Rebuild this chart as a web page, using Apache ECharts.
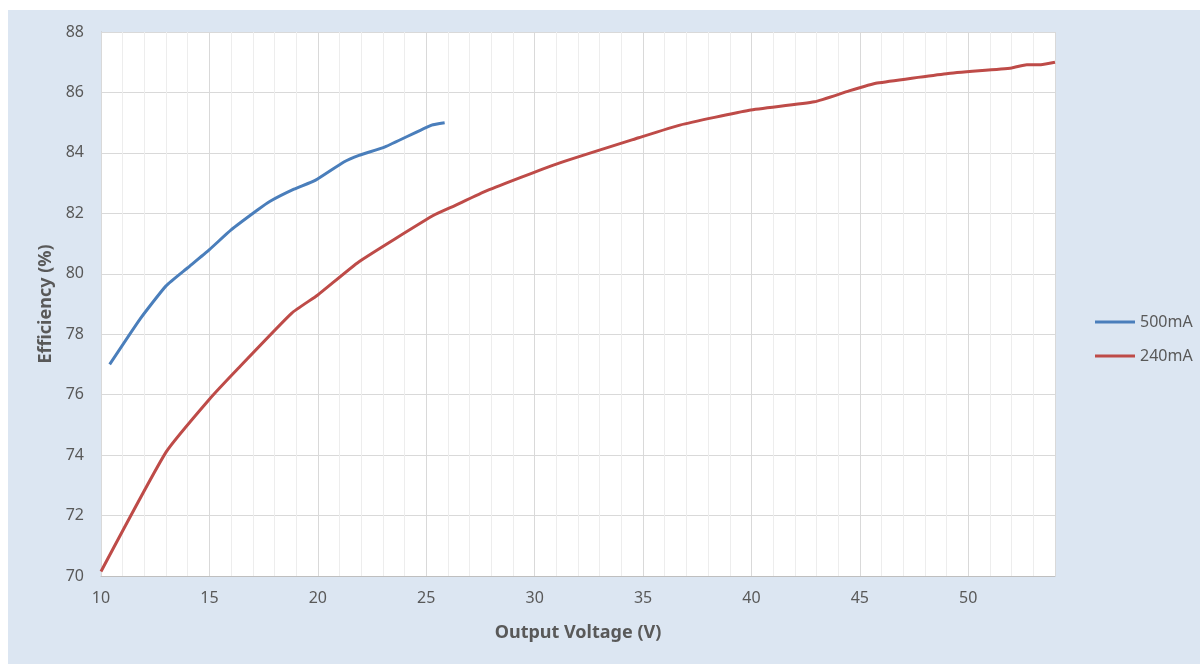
<!DOCTYPE html>
<html>
<head>
<meta charset="utf-8">
<script src="https://cdn.jsdelivr.net/npm/echarts@6/dist/echarts.min.js"></script>
<style>
html,body{margin:0;padding:0;background:#fff;}
#chart{width:1200px;height:664px;}
</style>
</head>
<body>
<div id="chart"></div>
<script>
const seriesNames = ['500mA', '240mA'];
const v500 = [10.4, 11.8, 13.0, 14.0, 15.0, 16.0, 17.2, 17.8, 18.9, 19.9, 21.2, 21.9, 23.1, 25.25, 25.85];
const e500 = [77.0, 78.5, 79.6, 80.2, 80.8, 81.45, 82.1, 82.4, 82.8, 83.1, 83.7, 83.92, 84.2, 84.92, 85.0];
const v240 = [10.0, 13.0, 15.0, 16.3, 18.8, 20.0, 21.9, 25.3, 26.3, 27.8, 31.0, 34.8, 36.7, 39.9, 42.9, 44.5, 45.8, 49.0, 52.0, 52.7, 53.35, 54.0];
const e240 = [70.15, 74.1, 75.85, 76.85, 78.7, 79.3, 80.4, 81.92, 82.25, 82.75, 83.63, 84.5, 84.92, 85.41, 85.69, 86.05, 86.31, 86.62, 86.81, 86.92, 86.92, 87.0];
const xTitle = 'Output Voltage (V)';
const yTitle = 'Efficiency (%)';

const zip = (xs, ys) => xs.map((x, i) => [x, ys[i]]);
const labelColor = '#595959';
const font = 'Noto Sans';

const chart = echarts.init(document.getElementById('chart'));
chart.setOption({
  animation: false,
  backgroundColor: '#ffffff',
  graphic: [{
    type: 'rect', z: -100, silent: true,
    shape: { x: 8, y: 10, width: 1192, height: 654 },
    style: { fill: '#dce6f2' }
  }],
  grid: {
    left: 101, right: 145, top: 32, bottom: 88,
    show: true, backgroundColor: '#ffffff', borderWidth: 0
  },
  legend: {
    orient: 'vertical', left: 1095, top: 314, padding: 0,
    icon: 'rect', itemWidth: 40, itemHeight: 3, itemGap: 18,
    textStyle: { color: labelColor, fontSize: 16, fontFamily: font },
    data: seriesNames
  },
  xAxis: [{
    type: 'value', min: 10, max: 54, interval: 5,
    name: xTitle, nameLocation: 'middle', nameGap: 48,
    nameTextStyle: { color: labelColor, fontSize: 18, fontWeight: 'bold', fontFamily: font },
    axisLine: { show: true, lineStyle: { color: '#bfbfbf', width: 1 } },
    axisTick: { show: false },
    axisLabel: { color: labelColor, fontSize: 16, fontFamily: font, margin: 14, showMaxLabel: false },
    splitLine: { show: true, lineStyle: { color: '#d9d9d9', width: 1 } },
    z: 3
  }, {
    type: 'value', min: 10, max: 54, interval: 1, position: 'bottom',
    axisLine: { show: false }, axisTick: { show: false }, axisLabel: { show: false },
    splitLine: { show: true, lineStyle: { color: '#ededed', width: 1 } },
    z: 1
  }],
  yAxis: {
    type: 'value', min: 70, max: 88, interval: 2,
    name: yTitle, nameLocation: 'middle', nameGap: 44, nameRotate: 90,
    nameTextStyle: { color: labelColor, fontSize: 18, fontWeight: 'bold', fontFamily: font },
    axisLine: { show: true, lineStyle: { color: '#bfbfbf', width: 1 } },
    axisTick: { show: false },
    axisLabel: { color: labelColor, fontSize: 16, fontFamily: font, margin: 17 },
    splitLine: { show: true, lineStyle: { color: '#d9d9d9', width: 1 } }
  },
  series: [{
    name: seriesNames[0], type: 'line', xAxisIndex: 0,
    data: zip(v500, e500), symbol: 'none', smooth: 0.15,
    lineStyle: { color: '#4a7ebb', width: 3 }, itemStyle: { color: '#4a7ebb' }, z: 5
  }, {
    name: seriesNames[1], type: 'line', xAxisIndex: 0,
    data: zip(v240, e240), symbol: 'none', smooth: 0.15,
    lineStyle: { color: '#be4b48', width: 3 }, itemStyle: { color: '#be4b48' }, z: 5
  }]
});
</script>
</body>
</html>
